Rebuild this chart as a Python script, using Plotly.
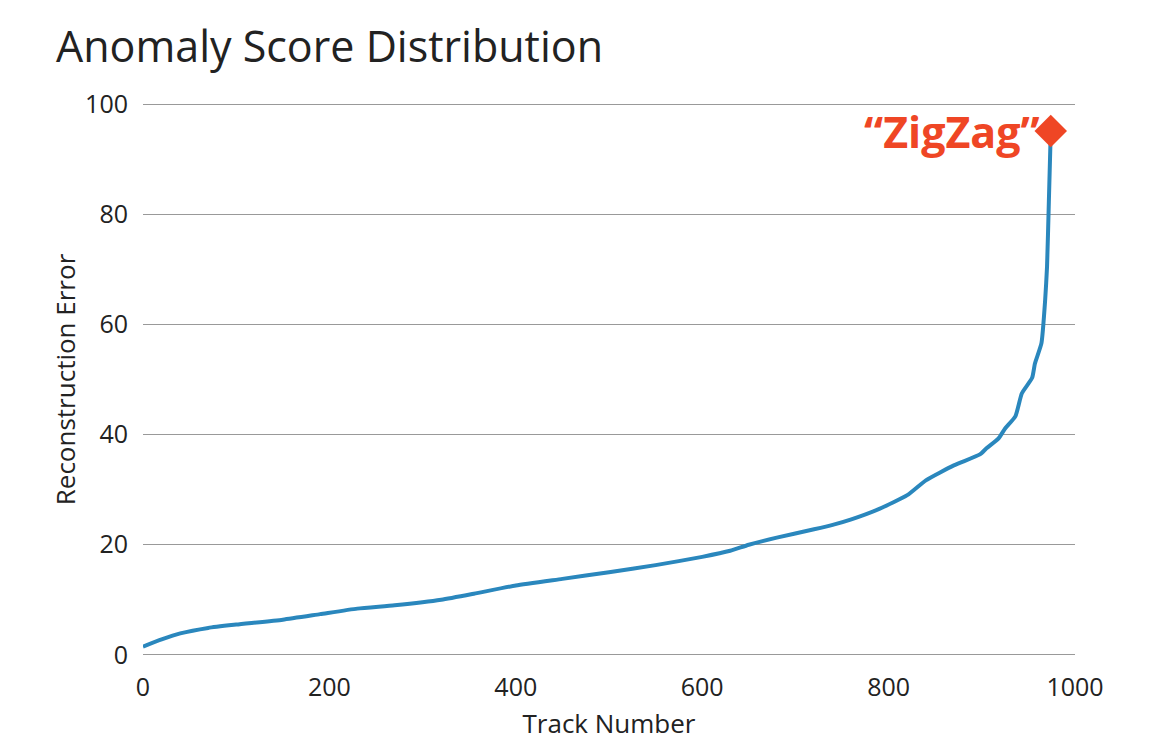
import plotly.graph_objects as go

track = [0, 20, 40, 70, 100, 150, 190, 230, 270, 320, 355, 400, 450, 500, 550, 600,
         630, 650, 680, 720, 740, 760, 790, 820, 840, 870, 898, 905, 918, 925, 936,
         943, 954, 957, 964, 968, 970, 972, 974]
error = [1.5, 2.8, 3.9, 4.9, 5.5, 6.4, 7.4, 8.4, 9.0, 10.0, 11.1, 12.6, 13.8, 15.0, 16.3, 17.8,
         18.9, 20.0, 21.3, 22.8, 23.6, 24.6, 26.5, 29.0, 31.7, 34.4, 36.4, 37.5, 39.3, 41.1, 43.3,
         47.5, 50.3, 52.9, 56.6, 64.5, 70.5, 82.6, 95.1]

highlight_x = [974]
highlight_y = [95.1]
highlight_label = "“ZigZag”"

x_ticks = [0, 200, 400, 600, 800, 1000]
y_ticks = [0, 20, 40, 60, 80, 100]

LINE = "#2a87bd"
RED = "#ef4625"
FONT = "Open Sans"
TXT = "#222222"

fig = go.Figure()
fig.add_trace(go.Scatter(x=track, y=error, mode="lines",
                         line=dict(color=LINE, width=4, shape="spline", smoothing=0.5),
                         cliponaxis=False, hoverinfo="x+y"))
fig.add_trace(go.Scatter(x=highlight_x, y=highlight_y, mode="markers",
                         marker=dict(symbol="diamond", size=25, color=RED),
                         cliponaxis=False))
fig.add_annotation(x=highlight_x[0], y=highlight_y[0], text=highlight_label,
                   showarrow=False, xanchor="right", yanchor="middle", xshift=-9, yshift=0,
                   font=dict(family=FONT, size=43, color=RED, weight="bold"))

fig.update_layout(
    width=1161, height=735,
    paper_bgcolor="white", plot_bgcolor="white",
    showlegend=False,
    margin=dict(l=135, r=94, t=95, b=87),
    font=dict(family=FONT, color=TXT),
    title=dict(text="Anomaly Score Distribution", x=48/1161, xref="container", xanchor="left",
               y=1-39/735, yref="container", yanchor="middle",
               font=dict(family=FONT, size=43, color=TXT)),
    xaxis=dict(range=[0, 1000], tickvals=x_ticks, showgrid=False, zeroline=False,
               showline=False, ticks="", ticklabelstandoff=14, automargin=False,
               tickfont=dict(size=25, color=TXT),
               title=dict(text="Track Number", font=dict(size=26, color=TXT), standoff=12)),
    yaxis=dict(range=[-0.2, 100.2], tickvals=y_ticks, showgrid=True, gridcolor="#999999",
               gridwidth=1, zeroline=False, showline=False, ticks="", ticklabelstandoff=14,
               automargin=False,
               tickfont=dict(size=25, color=TXT),
               title=dict(text="Reconstruction Error", font=dict(size=26, color=TXT),
                          standoff=2)),
)

fig.write_html("out.html")
